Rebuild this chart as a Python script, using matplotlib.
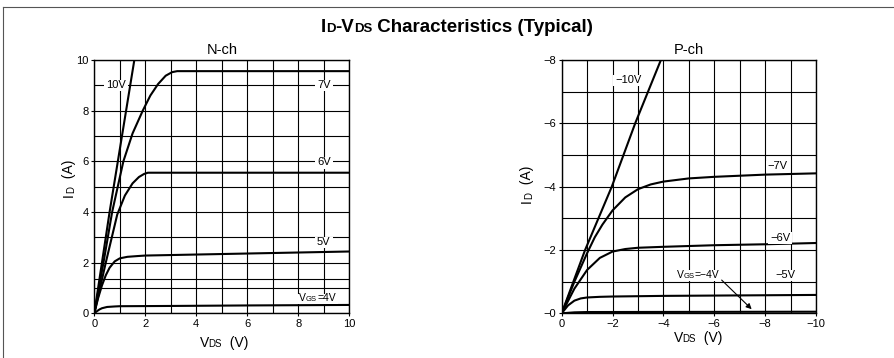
import matplotlib
matplotlib.use('Agg')
import matplotlib.pyplot as plt
from matplotlib.transforms import IdentityTransform
from matplotlib.patches import Rectangle
from matplotlib.lines import Line2D

plt.rcParams['font.family'] = ['Liberation Sans', 'DejaVu Sans']

# N-ch curves (VDS, ID)
n_vgs4_x = [0, 0.1, 0.2, 0.3, 0.5, 0.8, 1, 3, 6, 10]
n_vgs4_y = [0, 0.08, 0.15, 0.2, 0.25, 0.27, 0.28, 0.29, 0.31, 0.33]
n_vgs5_x = [0, 0.15, 0.3, 0.45, 0.6, 0.8, 1.0, 1.3, 1.7, 2, 4, 6, 8, 10]
n_vgs5_y = [0, 0.6, 1.1, 1.5, 1.8, 2.05, 2.17, 2.23, 2.26, 2.28, 2.32, 2.36, 2.4, 2.44]
n_vgs6_x = [0, 0.45, 0.9, 1.2, 1.5, 1.75, 1.95, 2.1, 10]
n_vgs6_y = [0, 2.0, 3.9, 4.65, 5.13, 5.38, 5.5, 5.55, 5.55]
n_vgs7_x = [0, 0.36, 0.7, 1.14, 1.5, 1.9, 2.2, 2.5, 2.8, 3.05, 3.25, 10]
n_vgs7_y = [0, 2.0, 4.0, 6.0, 7.1, 8.0, 8.6, 9.05, 9.38, 9.52, 9.56, 9.56]
n_vgs10_x = [0, 0.6, 1.57]
n_vgs10_y = [0, 4.0, 10.0]

# P-ch curves (VDS, ID)
p_vgs4_x = [0, -0.5, -1, -10]
p_vgs4_y = [0, -0.03, -0.04, -0.05]
p_vgs5_x = [0, -0.25, -0.5, -0.75, -1, -1.5, -2, -4, -6, -8, -10]
p_vgs5_y = [0, -0.25, -0.4, -0.47, -0.5, -0.52, -0.53, -0.55, -0.56, -0.57, -0.58]
p_vgs6_x = [0, -0.5, -1, -1.5, -2, -2.5, -3, -4, -6, -8, -10]
p_vgs6_y = [0, -0.78, -1.37, -1.75, -1.95, -2.03, -2.07, -2.1, -2.15, -2.18, -2.22]
p_vgs7_x = [0, -0.5, -1, -1.3, -1.6, -2, -2.5, -3, -3.5, -4, -5, -6, -8, -10]
p_vgs7_y = [0, -1.0, -1.9, -2.4, -2.8, -3.25, -3.66, -3.92, -4.07, -4.16, -4.26, -4.31, -4.38, -4.42]
p_vgs10_x = [0, -0.92, -1.97, -2.89, -3.9]
p_vgs10_y = [0, -2, -4, -6, -8]

n_ticks = [0, 2, 4, 6, 8, 10]
p_xticks = [0, -2, -4, -6, -8, -10]
p_xticklabels = ['0', '\u22122', '\u22124', '\u22126', '\u22128', '\u221210']
p_yticks = [0, -2, -4, -6, -8]
p_yticklabels = ['\u22120', '\u22122', '\u22124', '\u22126', '\u22128']

W, H = 894, 358
fig = plt.figure(figsize=(W / 100, H / 100), dpi=100)
renderer = fig.canvas.get_renderer()


def rich(px, py, pieces, ha='center', rotation=0, bg=False, weight='normal'):
    # px, py in display pixels, py = baseline (right edge for rotated text)
    widths = []
    for s, size in pieces:
        t = fig.text(0, 0, s, fontsize=size, fontweight=weight, transform=IdentityTransform())
        widths.append(t.get_window_extent(renderer).width)
        t.remove()
    total = sum(widths)
    off = -total / 2 if ha == 'center' else 0
    if bg:
        big = max(p[1] for p in pieces) * 100 / 72
        fig.add_artist(Rectangle((px + off - 2, py - 0.3 * big), total + 4, 1.05 * big,
                                 transform=IdentityTransform(), facecolor='white',
                                 edgecolor='none', zorder=5))
    if rotation == 90:
        y = py + off
        for (s, size), w in zip(pieces, widths):
            fig.text(px, y, s, fontsize=size, fontweight=weight, ha='right',
                     va='bottom', rotation=90, transform=IdentityTransform(), zorder=6)
            y += w
        return
    x = px + off
    for (s, size), w in zip(pieces, widths):
        fig.text(x, py, s, fontsize=size, fontweight=weight, ha='left', va='baseline',
                 transform=IdentityTransform(), zorder=6)
        x += w


def data_label(ax, x, y, pieces):
    px, py = ax.transData.transform((x, y))
    size = max(p[1] for p in pieces) * 100 / 72
    rich(px, py - 0.36 * size, pieces, bg=True)


def setup(ax):
    for sp in ax.spines.values():
        sp.set_linewidth(1.0)
    ax.grid(which='both', color='black', linewidth=0.8)
    ax.set_axisbelow(True)
    ax.tick_params(which='major', length=2, width=0.8, labelsize=8, pad=2)
    ax.tick_params(which='minor', length=0)


left_n = 94.3 / W
left_p = 561.7 / W
bottom = 1 - 313.3 / H
height = 253.3 / H
ax1 = fig.add_axes([left_n, bottom, 255 / W, height])
ax2 = fig.add_axes([left_p, bottom, 254.3 / W, height])

# N-ch
for xs, ys in [(n_vgs4_x, n_vgs4_y), (n_vgs5_x, n_vgs5_y), (n_vgs6_x, n_vgs6_y),
               (n_vgs7_x, n_vgs7_y), (n_vgs10_x, n_vgs10_y)]:
    ax1.plot(xs, ys, color='black', linewidth=1.5, solid_capstyle='round')
ax1.set_xlim(0, 10)
ax1.set_ylim(0, 10)
ax1.set_xticks(n_ticks)
ax1.set_yticks(n_ticks)
ax1.set_xticks([1, 3, 5, 7, 9], minor=True)
ax1.set_yticks([1, 1.35, 3, 5, 7, 9], minor=True)
setup(ax1)
ax1.set_title('N-ch', fontsize=10.5, pad=4)

# P-ch
for xs, ys in [(p_vgs4_x, p_vgs4_y), (p_vgs5_x, p_vgs5_y), (p_vgs6_x, p_vgs6_y),
               (p_vgs7_x, p_vgs7_y), (p_vgs10_x, p_vgs10_y)]:
    ax2.plot(xs, ys, color='black', linewidth=1.5, solid_capstyle='round')
ax2.set_xlim(0, -10)
ax2.set_ylim(0, -8)
ax2.set_xticks(p_xticks)
ax2.set_xticklabels(p_xticklabels)
ax2.set_yticks(p_yticks)
ax2.set_yticklabels(p_yticklabels)
ax2.set_xticks([-1, -3, -5, -7, -9], minor=True)
ax2.set_yticks([-1, -3, -5, -7], minor=True)
setup(ax2)
ax2.set_title('P-ch', fontsize=10.5, pad=4)
ax2.annotate('', xy=(-7.47, -0.13), xytext=(-6.29, -1.05),
             arrowprops=dict(arrowstyle='-|>', color='black', lw=0.8,
                             mutation_scale=8, shrinkA=0, shrinkB=0))

# curve labels
data_label(ax1, 0.85, 9.05, [('10V', 8)])
data_label(ax1, 9.0, 9.05, [('7V', 8)])
data_label(ax1, 9.0, 6.0, [('6V', 8)])
data_label(ax1, 9.0, 2.85, [('5V', 8)])
data_label(ax1, 8.75, 0.62, [('V', 7.5), ('GS', 5.5), ('=4V', 7.5)])

data_label(ax2, -2.62, -7.4, [('\u221210V', 8)])
data_label(ax2, -8.5, -4.68, [('\u22127V', 8)])
data_label(ax2, -8.6, -2.42, [('\u22126V', 8)])
data_label(ax2, -8.78, -1.24, [('\u22125V', 8)])
data_label(ax2, -5.35, -1.24, [('V', 7.5), ('GS', 5.5), ('=\u22124V', 7.5)])

# title and axis labels (pixel positions, y from top)
rich(457, H - 32, [('I', 13.5), ('D', 9.5), ('-V', 13.5), ('DS', 9.5),
                   (' Characteristics (Typical)', 13.5)], weight='bold')
rich(224, H - 347, [('V', 10), ('DS', 7), ('  (V)', 10)])
rich(698, H - 342, [('V', 10), ('DS', 7), ('  (V)', 10)])
rich(76, H - 178, [('I', 10), ('D', 7), ('  (A)', 10)], rotation=90)
rich(534, H - 184, [('I', 10), ('D', 7), ('  (A)', 10)], rotation=90)

# outer frame (top and left edges)
fig.add_artist(Line2D([3 / W, 3 / W], [0, 1 - 7 / H], color='#555555', linewidth=0.8))
fig.add_artist(Line2D([3 / W, 1], [1 - 7 / H, 1 - 7 / H], color='#555555', linewidth=0.8))

fig.savefig('out.png', dpi=100)
